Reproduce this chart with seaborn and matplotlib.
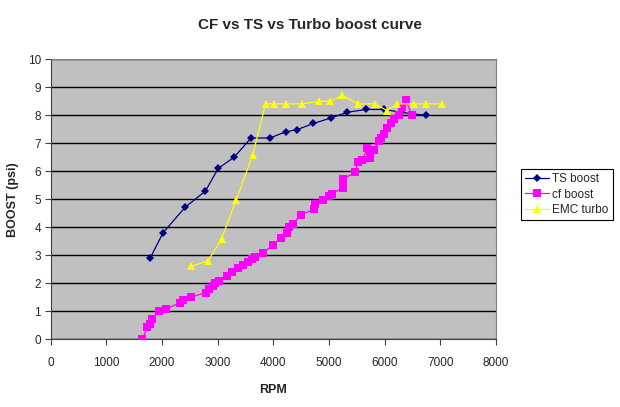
"""CF vs TS vs Turbo boost curve, Excel-style line chart redone with seaborn."""
import matplotlib
matplotlib.use("Agg")
import matplotlib.pyplot as plt
import pandas as pd
import seaborn as sns

# TS boost (navy diamonds)
ts_rpm = [1790, 2020, 2420, 2780, 3010, 3300, 3600, 3940, 4220, 4430,
          4720, 5040, 5330, 5660, 5990, 6290, 6740]
ts_boost = [2.9, 3.8, 4.72, 5.29, 6.1, 6.51, 7.19, 7.19, 7.41, 7.49,
            7.71, 7.91, 8.11, 8.21, 8.21, 8.11, 8.0]

# cf boost (magenta squares)
cf_rpm = [1650, 1740, 1780, 1820, 1940, 2080, 2330, 2370, 2520, 2790,
          2840, 2910, 2960, 3030, 3160, 3260, 3370, 3460, 3550, 3620,
          3680, 3820, 3990, 4130, 4250, 4290, 4350, 4500, 4740, 4750,
          4900, 5000, 5050, 5250, 5250, 5250, 5470, 5520, 5600, 5690,
          5730, 5740, 5810, 5900, 5930, 5990, 6050, 6110, 6170, 6260,
          6320, 6380, 6490]
cf_boost = [0.0, 0.42, 0.55, 0.7, 1.0, 1.08, 1.3, 1.38, 1.5, 1.66,
            1.78, 1.9, 2.0, 2.09, 2.26, 2.38, 2.55, 2.65, 2.75, 2.85,
            2.93, 3.07, 3.37, 3.61, 3.8, 4.0, 4.12, 4.44, 4.65, 4.82,
            4.96, 5.1, 5.2, 5.4, 5.55, 5.72, 5.96, 6.32, 6.42, 6.84,
            6.48, 6.63, 6.77, 7.07, 7.2, 7.34, 7.55, 7.73, 7.88, 8.03,
            8.3, 8.54, 8.0]

# EMC turbo (yellow triangles)
emc_rpm = [2520, 2830, 3070, 3330, 3630, 3860, 4020, 4220, 4520, 4820,
           5020, 5240, 5530, 5830, 6040, 6230, 6530, 6750, 7030]
emc_boost = [2.6, 2.8, 3.57, 4.96, 6.58, 8.41, 8.41, 8.41, 8.41, 8.5,
             8.5, 8.71, 8.41, 8.41, 8.17, 8.41, 8.41, 8.41, 8.41]

x_ticks = list(range(0, 8001, 1000))
y_ticks = list(range(0, 11))


def main() -> None:
    sns.set_theme(style="white")
    plt.rcParams["font.family"] = ["Liberation Sans", "DejaVu Sans"]

    fig = plt.figure(figsize=(6.2, 4.07), dpi=100)
    ax = fig.add_axes([0.0816, 0.167, 0.7184, 0.687])
    ax.set_facecolor("#c0c0c0")

    series = [
        ("TS boost", ts_rpm, ts_boost, "#000080", "D", 4.5, 0.9),
        ("cf boost", cf_rpm, cf_boost, "#ff00ff", "s", 5.5, 0.9),
        ("EMC turbo", emc_rpm, emc_boost, "#ffff00", "^", 6, 0.9),
    ]
    for name, xs, ys, color, marker, ms, lw in series:
        df = pd.DataFrame({"RPM": xs, "BOOST": ys})
        sns.lineplot(
            data=df, x="RPM", y="BOOST", sort=False, estimator=None,
            color=color, marker=marker, markersize=ms, markeredgewidth=0,
            linewidth=lw, label=name, ax=ax, zorder=3,
        )

    ax.set_xlim(0, 8000)
    ax.set_ylim(0, 10)
    ax.set_xticks(x_ticks)
    ax.set_yticks(y_ticks)
    ax.yaxis.grid(True, color="black", linewidth=1.0)
    ax.xaxis.grid(False)
    ax.set_axisbelow(True)
    ax.tick_params(axis="both", direction="out", length=4, width=0.8,
                   color="#404040", labelsize=8.5, pad=3,
                   bottom=True, left=True)
    ax.tick_params(axis="x", pad=9)
    for side in ("left", "bottom"):
        ax.spines[side].set_color("#404040")
        ax.spines[side].set_linewidth(0.8)
    for side in ("top", "right"):
        ax.spines[side].set_color("#808080")
        ax.spines[side].set_linewidth(0.8)

    ax.set_xlabel("RPM", fontsize=9, fontweight="bold", labelpad=11)
    ax.set_ylabel("BOOST (psi)", fontsize=9, fontweight="bold", labelpad=6)
    fig.suptitle("CF vs TS vs Turbo boost curve", fontsize=11,
                 fontweight="bold", y=0.955)

    leg = ax.legend(
        loc="upper left", bbox_to_anchor=(0.84, 0.585),
        bbox_transform=fig.transFigure, fontsize=8.5, frameon=True,
        fancybox=False, edgecolor="black", framealpha=1,
        handlelength=2.0, borderpad=0.35, labelspacing=0.3,
        handletextpad=0.3, borderaxespad=0,
    )
    leg.get_frame().set_linewidth(0.8)

    fig.savefig("out.png", dpi=100, facecolor="white")
    plt.close(fig)
    print("wrote out.png")


if __name__ == "__main__":
    main()
